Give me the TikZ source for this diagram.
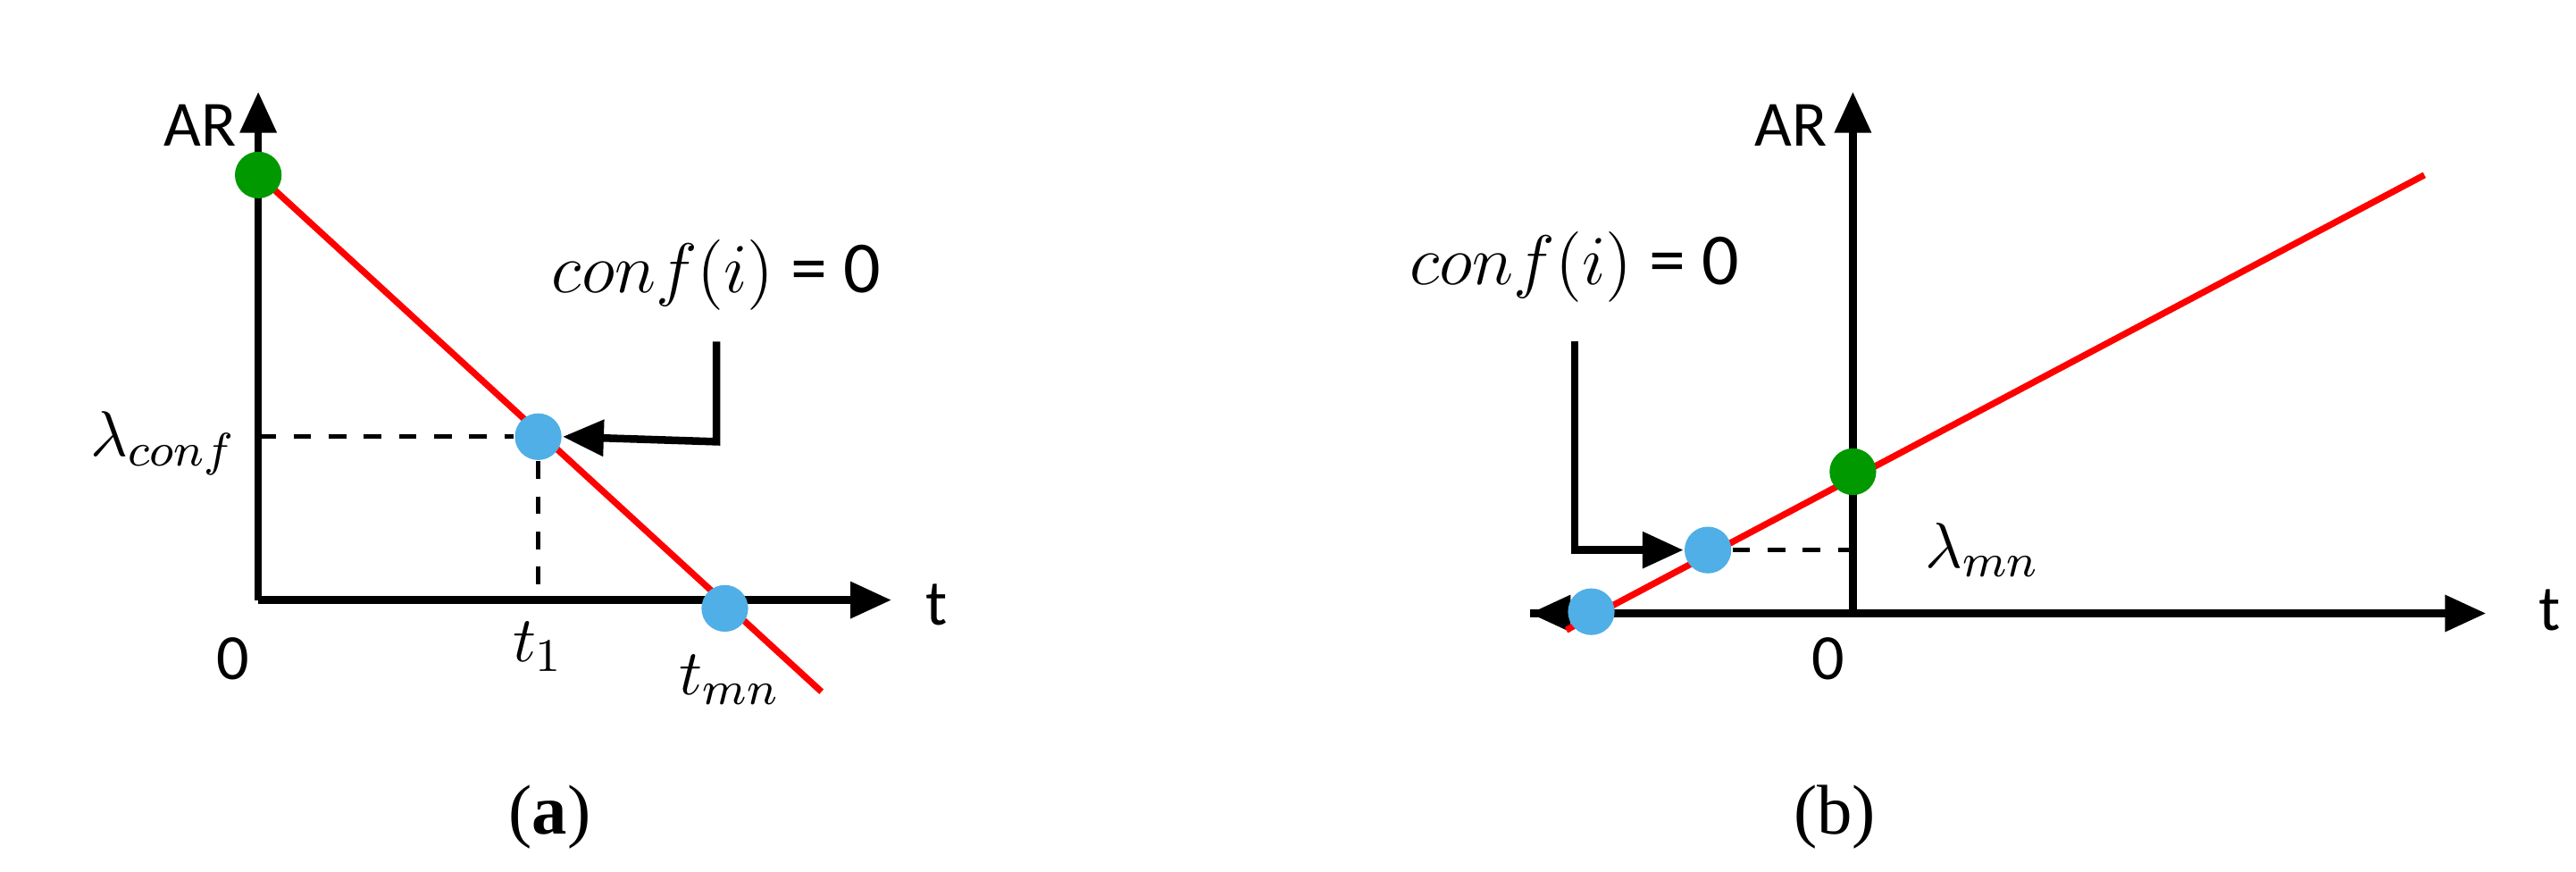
\documentclass[tikz,border=0pt]{standalone}
\usepackage{fontspec}
\setmainfont{Carlito}
\newfontfamily\capfont{Liberation Serif}
\usetikzlibrary{arrows.meta}
\begin{document}
\begin{tikzpicture}[x=0.01cm,y=-0.01cm,
 ax/.style={line width=1.3pt,-{Triangle[length=7pt,width=6pt]}},
 red/.style={draw=red,line width=1.1pt},
 dsh/.style={dashed,line width=0.8pt},
 dot/.style={circle,inner sep=0pt,minimum size=0.28cm},
 lbl/.style={font=\fontsize{11}{12}\selectfont},
 mlbl/.style={font=\fontsize{12.5}{14}\selectfont}]
\useasboundingbox (0,0) rectangle (1546,523);
% panel a
\coordinate (ao) at (155,360);
\coordinate (ayt) at (155,55);
\coordinate (axt) at (535,360);
\draw[ax] (ao) -- (ayt);
\draw[ax] (ao) -- (axt);
\coordinate (r1) at (155,105); \coordinate (r2) at (493,415);
\draw[red] (r1) -- (r2);
\node[dot,fill=green!60!black] (ag) at (155,105) {};
\node[dot,fill=cyan!80!blue!70] (ab1) at (323,262) {};
\node[dot,fill=cyan!80!blue!70] (ab2) at (435,365) {};
\coordinate (ady) at (155,262); \coordinate (adx) at (323,360);
\draw[dsh] (ady) -- (ab1); \draw[dsh] (ab1) -- (adx);
\node[lbl] (aAR) at (120,75) {AR};
\node[lbl] (at) at (562,363) {t};
\node[lbl] (a0) at (140,395) {0};
\node[lbl] (alc) at (98,266) {$\lambda_{conf}$};
\node[lbl] (at1) at (323,388) {$t_1$};
\node[lbl] (atm) at (438,408) {$t_{mn}$};
\node[mlbl] (aconf) at (430,165) {$conf(i)$ = 0};
\coordinate (aa1) at (430,205); \coordinate (aa2) at (430,265);
\draw[ax] (aa1) -- (aa2) -- (ab1.east);
\node[font=\fontsize{12}{14}\selectfont\capfont] (capa) at (330,490) {(\textbf{a})};
% panel b
\coordinate (bo) at (1112,368);
\coordinate (byt) at (1112,55);
\coordinate (bxl) at (918,368);
\coordinate (bxr) at (1492,368);
\draw[ax] (bo) -- (byt);
\draw[ax] (bxl) -- (bxr);
\draw[ax] (bo) -- (bxl);
\coordinate (s1) at (940,378); \coordinate (s2) at (1455,105);
\draw[red] (s1) -- (s2);
\node[dot,fill=green!60!black] (bg) at (1112,283) {};
\node[dot,fill=cyan!80!blue!70] (bb1) at (1025,330) {};
\node[dot,fill=cyan!80!blue!70] (bb2) at (955,367) {};
\coordinate (bdy) at (1112,330);
\draw[dsh] (bb1) -- (bdy);
\node[lbl] (bAR) at (1075,75) {AR};
\node[lbl] (bt) at (1530,366) {t};
\node[lbl] (b0) at (1097,395) {0};
\node[lbl] (blm) at (1190,330) {$\lambda_{mn}$};
\node[mlbl] (bconf) at (945,160) {$conf(i)$ = 0};
\coordinate (ba1) at (945,205); \coordinate (ba2) at (945,330);
\draw[ax] (ba1) -- (ba2) -- (bb1.west);
\node[font=\fontsize{12}{14}\selectfont\capfont] (capb) at (1101,490) {(b)};
\end{tikzpicture}
\end{document}
